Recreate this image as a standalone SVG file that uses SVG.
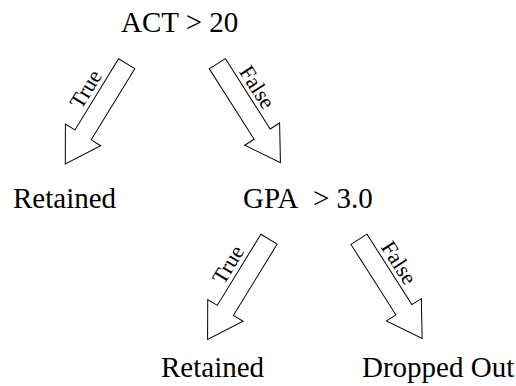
<svg xmlns="http://www.w3.org/2000/svg" width="516" height="386" viewBox="0 0 516 386">
<style>
.node{font-family:"Liberation Serif","DejaVu Serif",serif;font-size:29px;fill:#000}
.lbl{font-family:"Liberation Serif","DejaVu Serif",serif;font-size:22px;fill:#000}
.arr{fill:#fff;stroke:#000;stroke-width:1}
</style>
<defs>
<path id="arrow" class="arr" d="M0,-9.5 L83.5,-9.5 L83.5,-20.7 L117.5,0 L83.5,20.7 L83.5,9.5 L0,9.5 Z"/>
</defs>
<rect width="516" height="386" fill="#fff"/>
<g id="connectors">
<g id="e1"><use href="#arrow" transform="translate(126.7,63.7) rotate(121.5)"/><text class="lbl" text-anchor="middle" transform="translate(92,93) rotate(-58.5)">True</text></g>
<g id="e2"><use href="#arrow" transform="translate(217.3,63.7) rotate(57.5)"/><text class="lbl" text-anchor="middle" transform="translate(251,91) rotate(57.5)">False</text></g>
<g id="e3"><use href="#arrow" transform="translate(269,239.2) rotate(121.5)"/><text class="lbl" text-anchor="middle" transform="translate(234.3,268.5) rotate(-58.5)">True</text></g>
<g id="e4"><use href="#arrow" transform="translate(359,239.3) rotate(57.5)"/><text class="lbl" text-anchor="middle" transform="translate(392.7,266.6) rotate(57.5)">False</text></g>
</g>
<g id="n-act"><text class="node" x="121" y="31.5">ACT &gt; 20</text></g>
<g id="n-ret1"><text class="node" x="13" y="208">Retained</text></g>
<g id="n-gpa"><text class="node" x="243" y="208">GPA<tspan x="313">&gt; 3.0</tspan></text></g>
<g id="n-ret2"><text class="node" x="161" y="377">Retained</text></g>
<g id="n-drop"><text class="node" x="362" y="377">Dropped Out</text></g>
</svg>
